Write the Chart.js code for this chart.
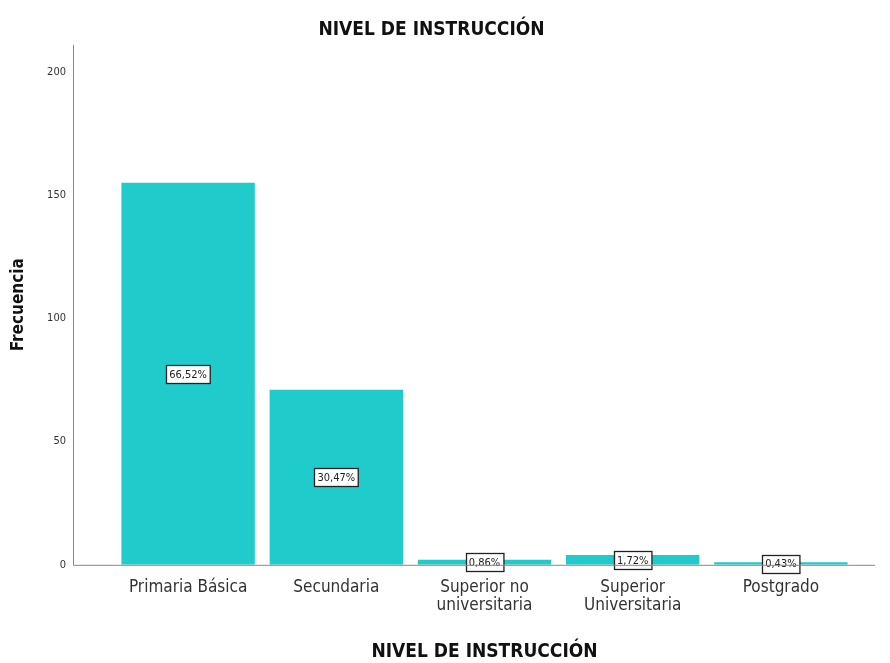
<!DOCTYPE html>
<html>
<head>
<meta charset="utf-8">
<script src="https://cdn.jsdelivr.net/npm/chart.js@4"></script>
<style>
  html, body { margin: 0; padding: 0; background: #fff; }
  #wrap { width: 890px; height: 663px; }
</style>
</head>
<body>
<div id="wrap"><canvas id="nivelChart" width="890" height="663"></canvas></div>
<script>
// data
const categorias = [['Primaria Básica'], ['Secundaria'], ['Superior no', 'universitaria'], ['Superior', 'Universitaria'], ['Postgrado']];
const frecuencias = [155, 71, 2, 4, 1];
const porcentajes = ['66,52%', '30,47%', '0,86%', '1,72%', '0,43%'];
const yTicks = [0, 50, 100, 150, 200];

const narrow = '"DejaVu Sans Condensed", "Liberation Sans", Arial, sans-serif';

// axis lines extend past the bars on both sides, like the original
const axisLines = {
    id: 'axisLines',
    afterDraw(chart) {
        const { ctx, chartArea } = chart;
        const x0 = chartArea.left - 41;
        const x1 = chartArea.right + 20;
        ctx.save();
        ctx.strokeStyle = '#888';
        ctx.lineWidth = 1;
        ctx.beginPath();
        ctx.moveTo(x0 + 0.5, chartArea.top);
        ctx.lineTo(x0 + 0.5, chartArea.bottom + 0.5);
        ctx.lineTo(x1, chartArea.bottom + 0.5);
        ctx.stroke();
        ctx.restore();
    }
};

// boxed percentage labels in the middle of each bar
const pctBoxes = {
    id: 'pctBoxes',
    afterDatasetsDraw(chart) {
        const { ctx } = chart;
        const meta = chart.getDatasetMeta(0);
        ctx.save();
        ctx.font = '11px ' + narrow;
        ctx.textAlign = 'center';
        ctx.textBaseline = 'middle';
        meta.data.forEach((bar, i) => {
            const txt = porcentajes[i];
            const cy = Math.min((bar.y + bar.base) / 2, bar.base - 1);
            const w = ctx.measureText(txt).width + 6;
            const h = 18;
            const x = Math.round(bar.x - w / 2) + 0.5;
            const y = Math.round(cy - h / 2) + 0.5;
            ctx.fillStyle = '#fff';
            ctx.fillRect(x, y, w, h);
            ctx.strokeStyle = '#222';
            ctx.lineWidth = 1.3;
            ctx.strokeRect(x, y, w, h);
            ctx.fillStyle = '#222';
            ctx.fillText(txt, bar.x, cy + 1);
        });
        ctx.restore();
    }
};

const ctx = document.getElementById('nivelChart').getContext('2d');
new Chart(ctx, {
    type: 'bar',
    data: {
        labels: categorias,
        datasets: [{
            label: 'Frecuencia',
            data: frecuencias,
            backgroundColor: '#1fcbcb',
            borderWidth: 0,
            barPercentage: 0.9,
            categoryPercentage: 1.0
        }]
    },
    options: {
        responsive: false,
        animation: false,
        layout: { padding: { top: 0, right: 35, bottom: 0, left: 8 } },
        plugins: {
            legend: { display: false },
            tooltip: { enabled: false },
            title: {
                display: true,
                text: 'NIVEL DE INSTRUCCIÓN',
                color: '#111',
                font: { family: narrow, size: 19, weight: 'bold' },
                padding: { top: 19, bottom: 3 }
            }
        },
        scales: {
            x: {
                grid: { display: false, drawTicks: false },
                border: { display: false },
                ticks: {
                    color: '#333',
                    font: { family: narrow, size: 17, lineHeight: 1.1 },
                    padding: 13,
                    maxRotation: 0,
                    autoSkip: false
                },
                title: {
                    display: true,
                    text: 'NIVEL DE INSTRUCCIÓN',
                    color: '#111',
                    font: { family: narrow, size: 19, weight: 'bold' },
                    padding: { top: 12, bottom: 0 }
                }
            },
            y: {
                min: 0,
                max: 211,
                grid: { display: false, drawTicks: false },
                border: { display: false },
                afterFit(scale) {
                    scale.width = 106;
                    // the big label gap must not push the plot area down
                    scale.paddingTop = 7;
                    scale.paddingBottom = 7;
                },
                afterBuildTicks(scale) {
                    scale.ticks = yTicks.map(v => ({ value: v }));
                },
                ticks: {
                    color: '#333',
                    font: { family: narrow, size: 11 },
                    padding: 48
                },
                title: {
                    display: true,
                    text: 'Frecuencia',
                    color: '#111',
                    font: { family: narrow, size: 17, weight: 'bold' },
                    padding: { top: 0, bottom: 0 }
                }
            }
        }
    },
    plugins: [axisLines, pctBoxes]
});
</script>
</body>
</html>
